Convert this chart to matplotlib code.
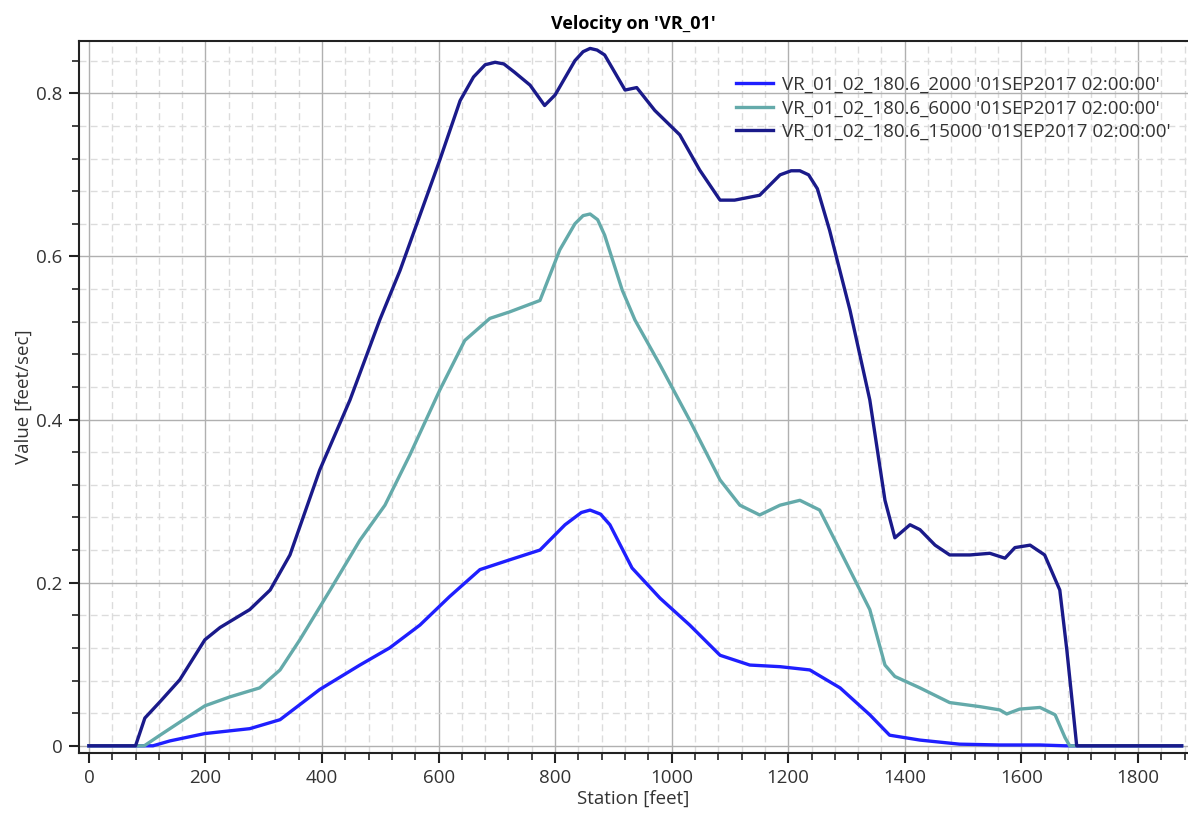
import numpy as np
import matplotlib.pyplot as plt
from matplotlib.ticker import MultipleLocator

plt.rcParams['font.family'] = ['Open Sans', 'DejaVu Sans']

# station [feet] / velocity [feet/sec]
x_2000 = [0, 50, 110, 139, 199, 276, 328, 396, 465, 516, 568, 619, 671, 722, 774,
          817, 845, 860, 878, 894, 932, 980, 1031, 1083, 1134, 1186, 1237, 1289,
          1340, 1374, 1426, 1494, 1563, 1632, 1675, 1700, 1800, 1875]
y_2000 = [0, 0, 0, 0.006, 0.015, 0.021, 0.032, 0.069, 0.099, 0.120, 0.148, 0.183,
          0.216, 0.228, 0.240, 0.271, 0.286, 0.289, 0.284, 0.271, 0.218, 0.181,
          0.148, 0.111, 0.099, 0.097, 0.093, 0.071, 0.038, 0.013, 0.007, 0.002,
          0.001, 0.001, 0, 0, 0, 0]

x_6000 = [0, 50, 95, 122, 156, 199, 242, 293, 328, 362, 414, 465, 508, 551, 602,
          645, 688, 722, 774, 808, 834, 848, 860, 873, 885, 915, 937, 980, 1031,
          1083, 1117, 1151, 1186, 1220, 1254, 1297, 1340, 1366, 1383, 1426, 1477,
          1529, 1563, 1575, 1597, 1632, 1658, 1675, 1683, 1800, 1875]
y_6000 = [0, 0, 0, 0.013, 0.029, 0.049, 0.060, 0.071, 0.093, 0.130, 0.191, 0.252,
          0.295, 0.357, 0.436, 0.497, 0.524, 0.532, 0.546, 0.608, 0.640, 0.650,
          0.652, 0.645, 0.626, 0.559, 0.522, 0.467, 0.399, 0.326, 0.295, 0.283,
          0.295, 0.301, 0.289, 0.228, 0.167, 0.099, 0.085, 0.071, 0.053, 0.048,
          0.044, 0.039, 0.045, 0.047, 0.038, 0.010, 0, 0, 0]

x_15000 = [0, 50, 80, 96, 122, 156, 199, 225, 276, 311, 345, 396, 448, 499, 534,
           602, 637, 660, 680, 697, 712, 730, 757, 782, 800, 834, 848, 860, 872,
           885, 920, 940, 971, 1014, 1048, 1083, 1108, 1151, 1186, 1205, 1220,
           1235, 1250, 1271, 1306, 1340, 1366, 1383, 1409, 1426, 1452, 1477, 1512,
           1546, 1572, 1589, 1615, 1640, 1666, 1678, 1687, 1695, 1800, 1875]
y_15000 = [0, 0, 0, 0.034, 0.054, 0.081, 0.130, 0.145, 0.167, 0.191, 0.234, 0.338,
           0.424, 0.522, 0.583, 0.718, 0.791, 0.820, 0.835, 0.838, 0.836, 0.826,
           0.810, 0.785, 0.798, 0.840, 0.851, 0.855, 0.853, 0.847, 0.804, 0.807,
           0.779, 0.749, 0.706, 0.669, 0.669, 0.675, 0.700, 0.705, 0.705, 0.700,
           0.683, 0.632, 0.534, 0.424, 0.301, 0.255, 0.271, 0.265, 0.246, 0.234,
           0.234, 0.236, 0.230, 0.243, 0.246, 0.234, 0.191, 0.118, 0.056, 0, 0, 0]

labels = ["VR_01_02_180.6_2000 '01SEP2017 02:00:00'",
          "VR_01_02_180.6_6000 '01SEP2017 02:00:00'",
          "VR_01_02_180.6_15000 '01SEP2017 02:00:00'"]
colors = ['#1f1fff', '#64aaaa', '#1a1a8a']

fig = plt.figure(figsize=(11.88, 8.30), dpi=100)
ax = fig.add_axes([0.0665, 0.093, 0.9335, 0.8575])

for xs, ys, lab, c in zip([x_2000, x_6000, x_15000], [y_2000, y_6000, y_15000],
                          labels, colors):
    ax.plot(xs, ys, color=c, lw=2.4, label=lab, solid_joinstyle='round')

ax.set_xlim(-17, 1886)
ax.set_ylim(-0.0086, 0.864)
ax.xaxis.set_major_locator(MultipleLocator(200))
ax.xaxis.set_minor_locator(MultipleLocator(40))
ax.yaxis.set_major_locator(MultipleLocator(0.2))
ax.yaxis.set_minor_locator(MultipleLocator(0.04))
ax.yaxis.set_major_formatter(plt.FuncFormatter(lambda v, p: '0' if abs(v) < 1e-9 else '%.1f' % v))

ax.grid(which='major', color='#b0b0b0', lw=1.0)
ax.grid(which='minor', color='#dcdcdc', lw=1.0, ls=(0, (5, 3)))
ax.set_axisbelow(True)

ax.spines['right'].set_visible(False)
for s in ['left', 'bottom', 'top']:
    ax.spines[s].set_linewidth(1.5)
    ax.spines[s].set_color('#222222')

ax.tick_params(which='major', length=7, width=1.5, labelsize=13.5, colors='#222222',
               labelcolor='#333333', pad=5)
ax.tick_params(which='minor', length=5, width=1.2, colors='#222222')
ax.tick_params(top=False, right=False, which='both')

ax.set_title("Velocity on 'VR_01'", fontsize=13, fontweight='bold', pad=9)
ax.set_xlabel('Station [feet]', fontsize=13.5, color='#333333', labelpad=2)
ax.set_ylabel('Value [feet/sec]', fontsize=13.5, color='#333333', labelpad=2)

leg = ax.legend(loc='upper right', bbox_to_anchor=(1.0, 0.975), frameon=False,
                fontsize=13.5, handlelength=2.0, labelspacing=0.3, handletextpad=0.5)
for t in leg.get_texts():
    t.set_color('#333333')

fig.savefig('out.png', dpi=100)
